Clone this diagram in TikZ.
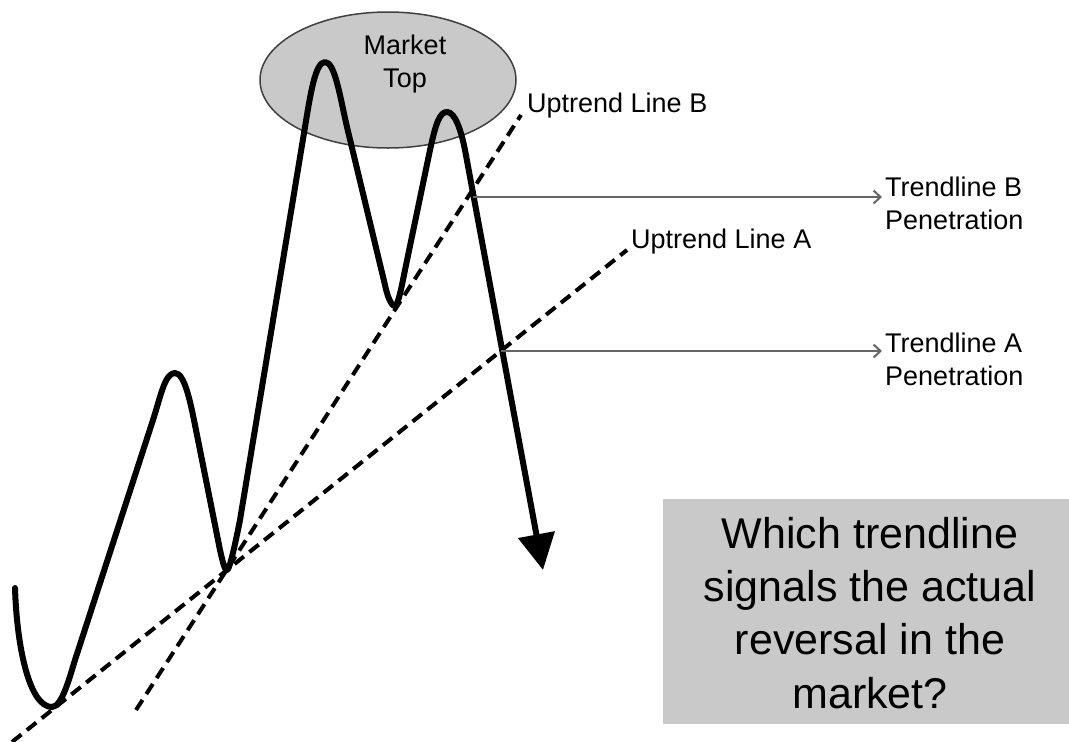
\documentclass[tikz,border=0pt]{standalone}
\usepackage{fontspec}
\setmainfont{Liberation Sans}
\usetikzlibrary{arrows.meta,shapes.geometric}
\definecolor{boxgray}{RGB}{201,201,201}
\begin{document}
\begin{tikzpicture}[x=1pt,y=-1pt,
  price/.style={line width=6pt, line join=round, line cap=round},
  trend/.style={line width=4pt, dash pattern=on 12pt off 7pt},
  pointer/.style={line width=2pt, black!60, -{Straight Barb[length=7pt,width=13pt]}},
  lbl/.style={font=\fontsize{27}{33}\selectfont, inner sep=0pt, align=left},
  bigtxt/.style={font=\fontsize{43}{53.3}\selectfont, inner sep=0pt, align=center}
]
\useasboundingbox (0,0) rectangle (1069,742);

% Market top ellipse
\node (topell) [ellipse, draw=black!75, line width=1.5pt, fill=boxgray, inner sep=0pt,
  minimum width=256pt, minimum height=136pt] at (388,80) {};
\node (toptxt) [lbl, align=center, anchor=base] at (405,87) {Market\\Top};

% question box
\node (qbox) [fill=boxgray, inner sep=0pt, minimum width=406pt, minimum height=225pt,
  anchor=north west] at (663,499) {};
\node (qtxt) [bigtxt, anchor=base] at (870,708) {Which trendline\\signals the actual\\reversal in the\\market?};

% trend lines
\coordinate (a0) at (12,742);
\coordinate (a1) at (627,250);
\coordinate (b0) at (136,710);
\coordinate (b1) at (521,115);
\draw[trend] (a0) -- (a1);
\draw[trend] (b0) -- (b1);
\node (ula) [lbl, anchor=base west] at (631,248) {Uptrend Line A};
\node (ulb) [lbl, anchor=base west] at (527,112) {Uptrend Line B};

% price curve
\draw[price, -{Triangle[length=36pt,width=36pt]}] (15,588)
 .. controls (17,650) and (30,707) .. (52,707)
 .. controls (62,707) and (70,676) .. (75,660)
 -- (153,420)
 .. controls (161,395) and (165,373) .. (175,373)
 .. controls (185,373) and (191,405) .. (196,430)
 -- (220,550)
 .. controls (222,558) and (224,570) .. (227,570)
 .. controls (230,570) and (237,535) .. (240,520)
 -- (305,127)
 .. controls (310,97) and (315,62) .. (325,62)
 .. controls (335,62) and (340,97) .. (347,127)
 -- (385,285)
 .. controls (387,295) and (391,306) .. (395,306)
 .. controls (398,306) and (402,285) .. (405,270)
 -- (430,150)
 .. controls (436,122) and (440,112) .. (447,112)
 .. controls (455,112) and (461,130) .. (465,150)
 -- (543,570);

% penetration pointers
\coordinate (pb) at (473,197);
\coordinate (pa) at (501,351);
\node (tb) [lbl, anchor=base west] at (885,229) {Trendline B\\Penetration};
\node (ta) [lbl, anchor=base west] at (885,385) {Trendline A\\Penetration};
\draw[pointer] (pb) -- ([xshift=-3pt]pb -| tb.west);
\draw[pointer] (pa) -- ([xshift=-3pt]pa -| ta.west);
\end{tikzpicture}
\end{document}
